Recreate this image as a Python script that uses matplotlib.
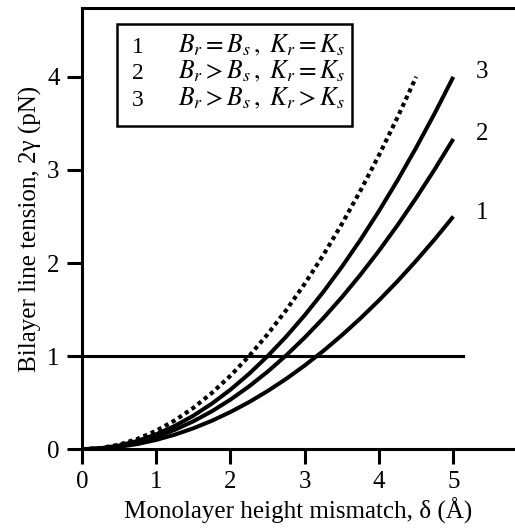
import matplotlib
matplotlib.use("Agg")
import matplotlib.pyplot as plt
from matplotlib.patches import Rectangle

plt.rcParams['font.family'] = ['Liberation Serif', 'DejaVu Serif']
plt.rcParams['mathtext.fontset'] = 'stix'

x_vals = [0, 0.25, 0.5, 0.75, 1.0, 1.25, 1.5, 1.75, 2.0, 2.25, 2.5,
          2.75, 3.0, 3.25, 3.5, 3.75, 4.0, 4.25, 4.5, 4.75, 5.0]
curve1 = [0, 0.006, 0.025, 0.056, 0.100, 0.156, 0.225, 0.306, 0.400, 0.506, 0.625,
          0.756, 0.900, 1.056, 1.225, 1.406, 1.600, 1.806, 2.025, 2.256, 2.500]
curve2 = [0, 0.008, 0.033, 0.075, 0.133, 0.208, 0.300, 0.408, 0.533, 0.675, 0.833,
          1.008, 1.200, 1.408, 1.633, 1.875, 2.133, 2.408, 2.700, 3.008, 3.333]
curve3 = [0, 0.010, 0.040, 0.090, 0.160, 0.250, 0.360, 0.490, 0.640, 0.810, 1.000,
          1.210, 1.440, 1.690, 1.960, 2.250, 2.560, 2.890, 3.240, 3.610, 4.000]
x_dot = [0, 0.25, 0.5, 0.75, 1.0, 1.25, 1.5, 1.75, 2.0, 2.25,
         2.5, 2.75, 3.0, 3.25, 3.5, 3.75, 4.0, 4.25, 4.5]
curve_dot = [0, 0.012, 0.049, 0.111, 0.198, 0.309, 0.444, 0.605, 0.790, 1.000,
             1.235, 1.494, 1.778, 2.086, 2.420, 2.778, 3.160, 3.568, 4.000]
threshold_x = [0, 5.13]
threshold_y = [1, 1]

curve_labels = ['1', '2', '3']
legend_rows = [('1', r'$B_r = B_s\,,\ K_r = K_s$'),
               ('2', r'$B_r > B_s\,,\ K_r = K_s$'),
               ('3', r'$B_r > B_s\,,\ K_r > K_s$')]

fig = plt.figure(figsize=(5.15, 5.31), dpi=100)
ax = fig.add_axes([0.159, 0.154, 0.841, 0.831])

lw = 2.9
ax.plot(x_vals, curve1, color='black', lw=lw, solid_capstyle='butt')
ax.plot(x_vals, curve2, color='black', lw=lw, solid_capstyle='butt')
ax.plot(x_vals, curve3, color='black', lw=lw, solid_capstyle='butt')
ax.plot(x_dot, curve_dot, color='black', lw=3.0, linestyle=(0, (1, 0.9)), dash_capstyle='butt')
ax.plot(threshold_x, threshold_y, color='black', lw=2.2)

fs = 18
ax.text(5.3, curve3[-1] + 0.05, curve_labels[2], fontsize=fs, va='center', ha='left')
ax.text(5.3, curve2[-1] + 0.05, curve_labels[1], fontsize=fs, va='center', ha='left')
ax.text(5.3, curve1[-1] + 0.04, curve_labels[0], fontsize=fs, va='center', ha='left')

ax.set_xlim(0, 5.83)
ax.set_ylim(0, 4.74)
ax.set_xticks([0, 1, 2, 3, 4, 5])
ax.set_yticks([0, 1, 2, 3, 4])
ax.tick_params(direction='out', length=11, width=2.2, labelsize=fs, pad=5)
for s in ['left', 'bottom', 'top']:
    ax.spines[s].set_linewidth(2.2)
ax.spines['right'].set_visible(False)

ax.set_xlabel('Monolayer height mismatch, δ (Å)', fontsize=fs, labelpad=3)
ax.set_ylabel('Bilayer line tension, 2γ (pN)', fontsize=fs, labelpad=4)

# legend box
ax.add_patch(Rectangle((0.47, 3.47), 3.17, 1.10, fill=False, edgecolor='black', lw=1.8))
row_y = [4.32, 4.04, 3.75]
math_texts = []
for (num, txt), yy in zip(legend_rows, row_y):
    ax.text(0.67, yy, num, fontsize=17, va='center', ha='left')
    math_texts.append(ax.text(1.29, yy + 0.02, txt, fontsize=18, va='center', ha='left'))

# fit the legend text width to the box (text runs from x=1.29 to x=3.54)
fig.canvas.draw()
r = fig.canvas.get_renderer()
w = math_texts[0].get_window_extent(r).width
target = ax.transData.transform((3.54, 0))[0] - ax.transData.transform((1.29, 0))[0]
new_fs = 18 * target / w
for t in math_texts:
    t.set_fontsize(new_fs)

fig.savefig('out.png', dpi=100)
